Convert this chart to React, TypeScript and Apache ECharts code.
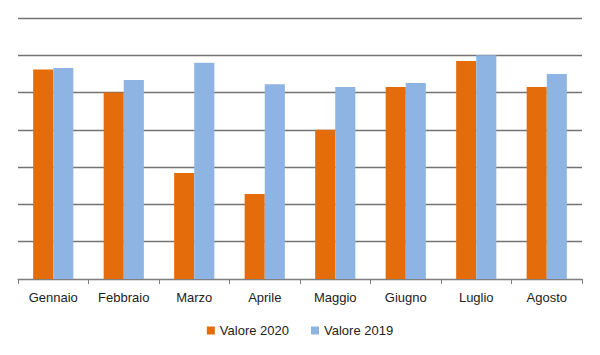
import React, { useEffect, useRef } from "react";
import * as echarts from "echarts";

const categories = ["Gennaio", "Febbraio", "Marzo", "Aprile", "Maggio", "Giugno", "Luglio", "Agosto"];
const valori2020 = [5.62, 5.0, 2.84, 2.28, 4.0, 5.15, 5.85, 5.15];
const valori2019 = [5.66, 5.34, 5.8, 5.22, 5.15, 5.26, 6.0, 5.5];

export default function App() {
  const ref = useRef<HTMLDivElement>(null);
  useEffect(() => {
    if (!ref.current) return;
    const chart = echarts.init(ref.current, undefined, { renderer: "svg" });
    chart.setOption({
      animation: false,
      textStyle: { fontFamily: "Liberation Sans" },
      grid: { left: 18, right: 18, top: 18, bottom: 76 },
      legend: {
        bottom: 13,
        left: "center",
        itemWidth: 8,
        itemHeight: 8,
        itemGap: 22,
        icon: "rect",
        textStyle: { fontSize: 13, color: "#222" },
        data: ["Valore 2020", "Valore 2019"],
      },
      xAxis: {
        type: "category",
        data: categories,
        axisLine: { lineStyle: { color: "#7f7f7f", width: 1.2 } },
        axisTick: { show: true, length: 5, lineStyle: { color: "#7f7f7f" } },
        axisLabel: { fontSize: 13, color: "#222", margin: 12 },
      },
      yAxis: {
        type: "value",
        min: 0,
        max: 7,
        interval: 1,
        axisLabel: { show: false },
        axisLine: { show: false },
        axisTick: { show: false },
        splitLine: { lineStyle: { color: "#737373", width: 1.3 } },
      },
      series: [
        {
          name: "Valore 2020",
          type: "bar",
          data: valori2020,
          itemStyle: { color: "#E46C0A" },
          barGap: "0%",
          barCategoryGap: "43%",
        },
        {
          name: "Valore 2019",
          type: "bar",
          data: valori2019,
          itemStyle: { color: "#8DB4E2" },
          barGap: "0%",
          barCategoryGap: "43%",
        },
      ],
    });
    return () => chart.dispose();
  }, []);
  return <div ref={ref} style={{ width: 600, height: 355, position: "absolute", left: 0, top: 0 }} />;
}
